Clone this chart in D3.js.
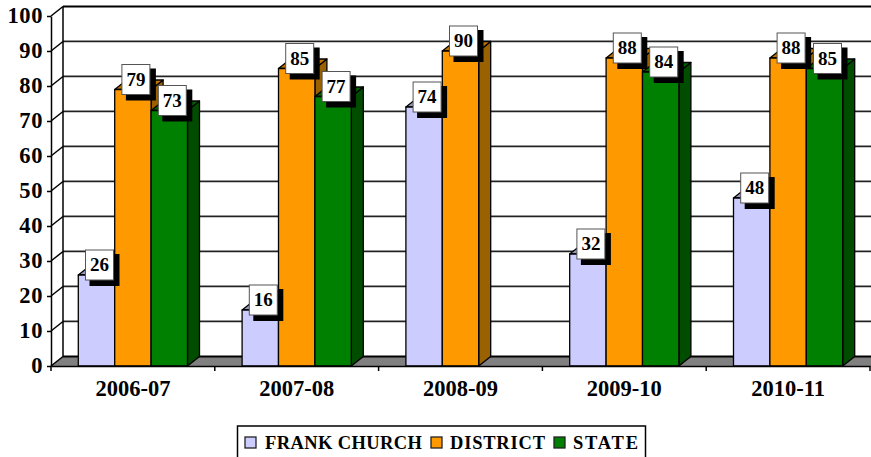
<!DOCTYPE html>
<html>
<head>
<meta charset="utf-8">
<script src="https://cdn.jsdelivr.net/npm/d3@7"></script>
<style>
body { margin: 0; background: #fff; overflow: hidden; }
svg { display: block; }
text { font-family: "Liberation Serif", serif; font-weight: bold; fill: #000; }
</style>
</head>
<body>
<svg id="chart" width="871" height="457"></svg>
<script>
const years = ['2006-07', '2007-08', '2008-09', '2009-10', '2010-11'];
const seriesNames = ['FRANK CHURCH', 'DISTRICT', 'STATE'];
const frankChurch = [26, 16, 74, 32, 48];
const district = [79, 85, 90, 88, 88];
const state = [73, 77, null, 84, 85];
const yTicks = [0, 10, 20, 30, 40, 50, 60, 70, 80, 90, 100];

const allSeries = [frankChurch, district, state];
const front = ['#ccccff', '#ff9900', '#008000'];
const top_ = ['#9999bf', '#bf7300', '#006000'];
const side = ['#7a7a99', '#996100', '#004d00'];

const depthX = 12, depthY = 9.5;
const svg = d3.select('#chart');

const x = d3.scaleBand().domain(years).range([51, 870]);
const xInner = d3.scaleBand().domain(seriesNames).range([0, x.bandwidth()]).paddingOuter(0.75);
const y = d3.scaleLinear().domain([0, 100]).range([366, 16]);

// floor
svg.append('path')
    .attr('d', `M51,366L${51 + depthX},${366 - depthY}L871,${366 - depthY}L871,366Z`)
    .attr('fill', '#808080');

// back wall grid lines
const grid = svg.append('g');
yTicks.forEach(t => {
    const edge = t === 100 || t === 0;
    if (!edge) {
        // soft grey line just above the dark one
        grid.append('line')
            .attr('x1', 51 + depthX).attr('x2', 871)
            .attr('y1', y(t) - depthY - 1).attr('y2', y(t) - depthY - 1)
            .attr('stroke', '#bbb').attr('stroke-width', 1);
    }
    grid.append('line')
        .attr('x1', 51 + depthX).attr('x2', 871)
        .attr('y1', y(t) - depthY).attr('y2', y(t) - depthY)
        .attr('stroke', edge ? '#000' : '#222')
        .attr('stroke-width', edge ? 2 : 1.3);
    grid.append('line')
        .attr('x1', 51).attr('x2', 51 + depthX)
        .attr('y1', y(t)).attr('y2', y(t) - depthY)
        .attr('stroke', '#000').attr('stroke-width', 1.5);
});
grid.append('line')
    .attr('x1', 51 + depthX).attr('x2', 51 + depthX)
    .attr('y1', y(100) - depthY).attr('y2', y(0) - depthY)
    .attr('stroke', '#000').attr('stroke-width', 1.5);

// bars, left to right so each one covers the side of the previous
const bars = svg.append('g').attr('stroke', '#000').attr('stroke-width', 1.3).attr('stroke-linejoin', 'round');
years.forEach((yr, i) => {
    seriesNames.forEach((name, s) => {
        const v = allSeries[s][i];
        if (v === null) return;
        const x0 = x(yr) + xInner(name);
        const x1 = x0 + xInner.bandwidth();
        const yt = y(v), yb = y(0);
        bars.append('path')
            .attr('d', `M${x1},${yt}L${x1 + depthX},${yt - depthY}L${x1 + depthX},${yb - depthY}L${x1},${yb}Z`)
            .attr('fill', side[s]);
        bars.append('path')
            .attr('d', `M${x0},${yt}L${x0 + depthX},${yt - depthY}L${x1 + depthX},${yt - depthY}L${x1},${yt}Z`)
            .attr('fill', top_[s]);
        bars.append('rect')
            .attr('x', x0).attr('y', yt)
            .attr('width', x1 - x0).attr('height', yb - yt)
            .attr('fill', front[s]);
    });
});

// axes
const yAxis = d3.axisLeft(y).tickValues(yTicks).tickSize(4).tickPadding(4).tickSizeOuter(0);
const yGroup = svg.append('g').attr('transform', 'translate(51,0)').call(yAxis);
yGroup.selectAll('text').style('font-size', '22.5px').style('letter-spacing', '0.6px').attr('font-family', null).attr('dy', '0.3em');
yGroup.selectAll('line, path').attr('stroke', '#000').attr('stroke-width', 1.5);

const xAxis = d3.axisBottom(x).tickSize(0).tickPadding(14);
const xGroup = svg.append('g').attr('transform', 'translate(0,366)').call(xAxis);
xGroup.selectAll('text').style('font-size', '22.5px').attr('font-family', null);
xGroup.select('.domain').attr('stroke', '#000').attr('stroke-width', 1.5);
const boundaries = years.map(d => x(d)).concat(x.range()[1]);
xGroup.selectAll('.sep').data(boundaries).join('line')
    .attr('class', 'sep')
    .attr('x1', d => d).attr('x2', d => d)
    .attr('y1', 0).attr('y2', 5)
    .attr('stroke', '#000').attr('stroke-width', 1.5);

// value labels
const labels = svg.append('g');
years.forEach((yr, i) => {
    seriesNames.forEach((name, s) => {
        const v = allSeries[s][i];
        if (v === null) return;
        const cx = x(yr) + xInner(name) + xInner.bandwidth() / 2 + 3;
        const cy = y(v) - 10;
        labels.append('rect')
            .attr('x', cx - 10).attr('y', cy - 11).attr('width', 30).attr('height', 32)
            .attr('fill', '#000');
        labels.append('rect')
            .attr('x', cx - 14).attr('y', cy - 15).attr('width', 28).attr('height', 30)
            .attr('fill', '#fff').attr('stroke', '#555').attr('stroke-width', 1);
        labels.append('text')
            .attr('x', cx).attr('y', cy + 6)
            .attr('text-anchor', 'middle')
            .style('font-size', '19px')
            .text(v);
    });
});

// legend
const legend = svg.append('g');
legend.append('rect')
    .attr('x', 237.5).attr('y', 426).attr('width', 408).attr('height', 40)
    .attr('fill', '#fff').attr('stroke', '#000').attr('stroke-width', 1.5);
const legendX = [245, 431, 554];
const legendTextX = [265, 450, 573];
const legendTextW = [157, 95, 65];
seriesNames.forEach((name, s) => {
    legend.append('rect')
        .attr('x', legendX[s]).attr('y', 437).attr('width', 11).attr('height', 11)
        .attr('fill', front[s]).attr('stroke', '#222').attr('stroke-width', 1.3);
    legend.append('text')
        .attr('x', legendTextX[s]).attr('y', 449)
        .attr('textLength', legendTextW[s])
        .style('font-size', '18.5px')
        .text(name);
});
</script>
</body>
</html>
